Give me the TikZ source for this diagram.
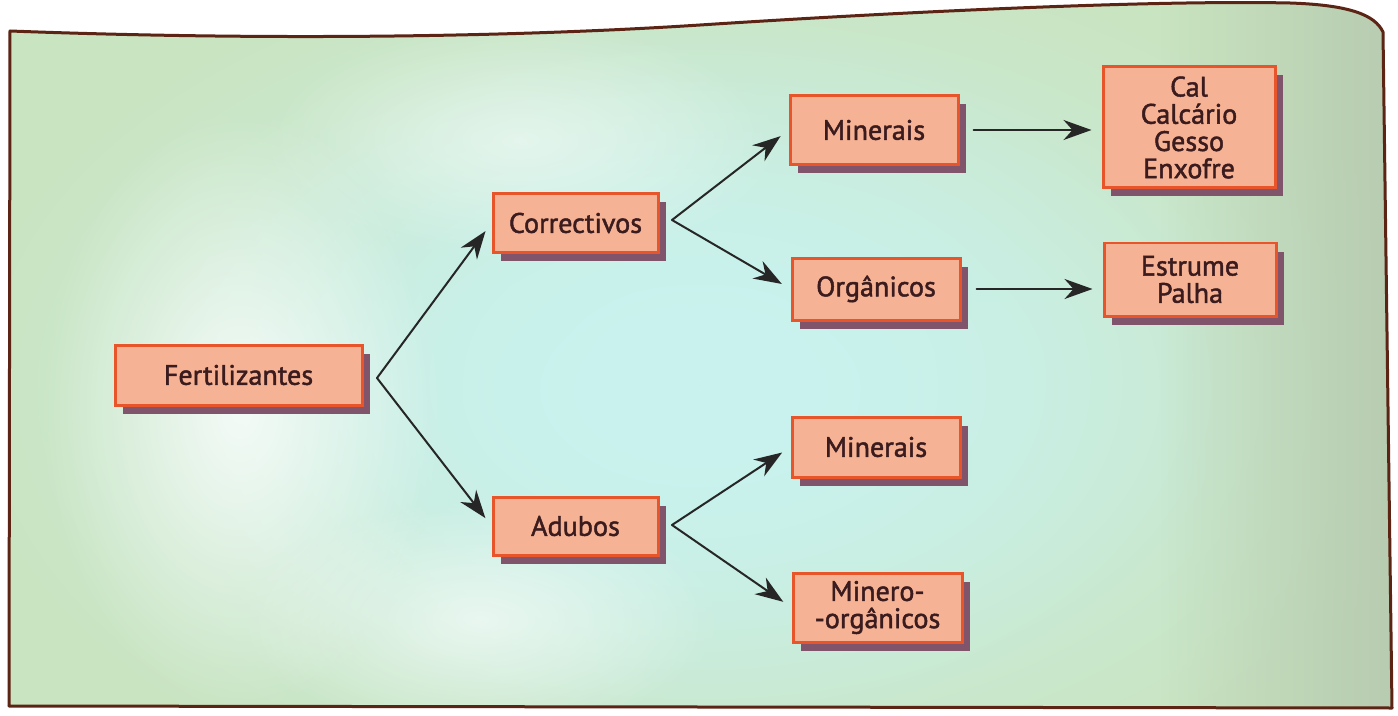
\documentclass[tikz,border=0pt]{standalone}
\usepackage{fontspec}
\setmainfont{PT Sans}[BoldFont={PT Sans}, BoldFeatures={FakeBold=1.6}]
\usetikzlibrary{arrows.meta,shadows,fadings}

\definecolor{verde}{HTML}{C9E4C0}
\definecolor{ciano}{HTML}{C9F3F0}
\definecolor{salmao}{HTML}{F6B294}
\definecolor{laranja}{HTML}{E8552A}
\definecolor{sombra}{HTML}{80546A}
\definecolor{texto}{HTML}{3A1B1E}
\definecolor{moldura}{HTML}{5C2414}
\definecolor{tinta}{HTML}{262626}

\tikzfading[name=nevoa, inner color=transparent!0, outer color=transparent!100]
\tikzfading[name=deriva, left color=transparent!100, right color=transparent!0]

\tikzset{
  caixa/.style={draw=laranja, line width=0.06cm, fill=salmao, text=texto,
    align=center, inner sep=0pt, font=\fontsize{16}{15.5}\selectfont\bfseries,
    drop shadow={shadow xshift=0.15cm, shadow yshift=-0.17cm, fill=sombra, opacity=1}},
  liga/.style={-{Stealth[length=0.56cm,width=0.4cm,inset=0.18cm]},
    line width=0.04cm, line cap=round, draw=tinta, shorten >=0.2cm},
}

\begin{document}
\begin{tikzpicture}[x=2cm,y=-2cm]
	\useasboundingbox (0,0) rectangle (13.98,7.16);
	\fill[white] (0,0) rectangle (13.98,7.16);
	% fundo do quadro
	\begin{scope}
		\clip (0.10,0.31) .. controls (2.5,0.40) and (5.0,0.38) .. (7.0,0.25)
			.. controls (9.0,0.12) and (11.5,0.0) .. (12.9,0.03)
			.. controls (13.5,0.05) and (13.75,0.15) .. (13.83,0.32)
			-- (13.92,7.08) -- (0.09,7.06) -- cycle;
		\fill[verde] (0,0) rectangle (13.98,7.16);
		\fill[ciano, path fading=nevoa] (7.0,3.9) ellipse (7.6 and 4.6);
		\fill[ciano, path fading=nevoa] (7.0,3.8) ellipse (5.4 and 3.6);
		\fill[white, opacity=0.8, path fading=nevoa] (2.4,4.1) ellipse (2.0 and 3.0);
		\fill[white, opacity=0.6, path fading=nevoa] (4.8,6.2) ellipse (2.4 and 1.2);
		\fill[white, opacity=0.5, path fading=nevoa] (5.2,1.4) ellipse (2.6 and 1.2);
		\fill[verde!75!gray, path fading=deriva] (11.6,0) rectangle (13.98,7.16);
	\end{scope}
	\draw[moldura, line width=0.06cm, line join=round] (0.10,0.31) .. controls (2.5,0.40) and (5.0,0.38) .. (7.0,0.25)
		.. controls (9.0,0.12) and (11.5,0.0) .. (12.9,0.03)
		.. controls (13.5,0.05) and (13.75,0.15) .. (13.83,0.32)
		-- (13.92,7.08) -- (0.09,7.06) -- cycle;

	% caixas
	\node[caixa, minimum width=4.94cm, minimum height=1.2cm] (f) at (2.385,3.75) {Fertilizantes};
	\node[caixa, minimum width=3.3cm, minimum height=1.16cm] (c) at (5.755,2.23) {Correctivos};
	\node[caixa, minimum width=3.3cm, minimum height=1.16cm] (ad) at (5.755,5.26) {Adubos};
	\node[caixa, minimum width=3.36cm, minimum height=1.38cm] (cm) at (8.74,1.30) {Minerais};
	\node[caixa, minimum width=3.36cm, minimum height=1.24cm] (co) at (8.76,2.89) {Orgânicos};
	\node[caixa, minimum width=3.36cm, minimum height=1.2cm] (am) at (8.76,4.47) {Minerais};
	\node[caixa, minimum width=3.38cm, minimum height=1.38cm] (amo) at (8.775,6.075) {Minero-\\-orgânicos};
	\node[caixa, minimum width=3.44cm, minimum height=2.42cm] (cal) at (11.89,1.275) {Cal\\Calcário\\Gesso\\Enxofre};
	\node[caixa, minimum width=3.44cm, minimum height=1.46cm] (est) at (11.90,2.795) {Estrume\\Palha};

	% ligacoes
	\coordinate (jf) at (3.77,3.78);
	\coordinate (jc) at (6.72,2.20);
	\coordinate (ja) at (6.72,5.25);
	\draw[liga] (jf) to (c.west);
	\draw[liga] (jf) to (ad.west);
	\draw[liga] (jc) to (cm.west);
	\draw[liga] (jc) to (co.west);
	\draw[liga] (ja) to (am.west);
	\draw[liga] (ja) to (amo.west);
	\draw[liga, shorten <=0.28cm] (cm.east) to (cm.east -| cal.west);
	\draw[liga, shorten <=0.3cm] (co.east) to (co.east -| est.west);
\end{tikzpicture}
\end{document}
